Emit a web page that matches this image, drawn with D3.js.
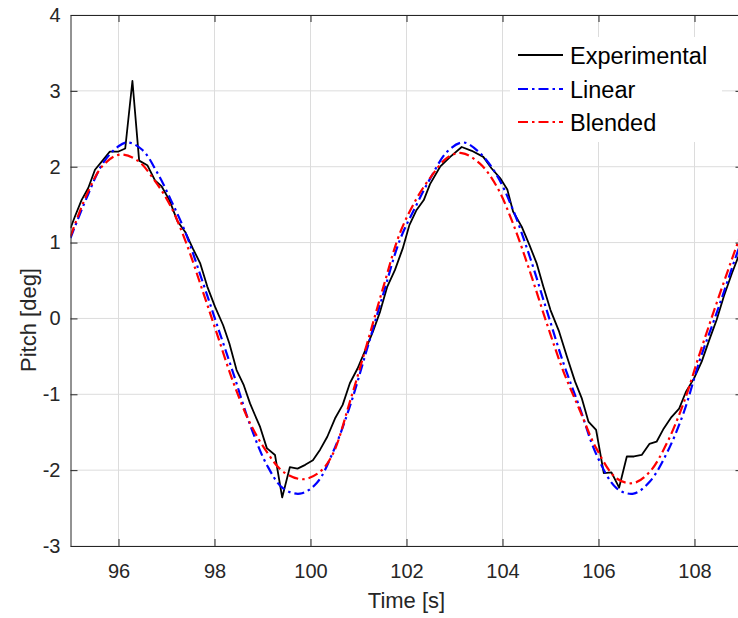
<!DOCTYPE html>
<html>
<head>
<meta charset="utf-8">
<script src="https://cdn.jsdelivr.net/npm/d3@7"></script>
<style>
  body { margin: 0; background: #fff; }
  svg { display: block; font-family: "Liberation Sans", Arial, sans-serif; }
</style>
</head>
<body>
<div id="vis"></div>
<script>
// experimental pitch
const expTime = [95.0, 95.09, 95.23, 95.37, 95.51, 95.68, 95.82, 96.0, 96.14, 96.29, 96.43, 96.6, 96.76, 96.9,
  97.06, 97.23, 97.39, 97.55, 97.7, 97.85, 98.01, 98.18, 98.31, 98.46, 98.61, 98.74, 98.84, 98.95, 99.09,
  99.26, 99.41, 99.57, 99.73, 99.89, 100.05, 100.2, 100.35, 100.51, 100.67, 100.82, 100.98, 101.14, 101.3,
  101.45, 101.6, 101.76, 101.92, 102.06, 102.21, 102.36, 102.49, 102.7, 102.91, 103.15, 103.36, 103.6,
  103.77, 103.95, 104.1, 104.22, 104.4, 104.56, 104.71, 104.85, 105.0, 105.18, 105.34, 105.51, 105.65,
  105.79, 105.95, 106.11, 106.27, 106.43, 106.59, 106.74, 106.9, 107.06, 107.21, 107.36, 107.52, 107.68,
  107.82, 107.99, 108.15, 108.31, 108.46, 108.61, 108.78, 108.91, 109.0]
const expPitch = [1.19, 1.34, 1.56, 1.72, 1.96, 2.09, 2.2, 2.2, 2.24, 3.13, 2.08, 2.02, 1.82, 1.74,
  1.56, 1.28, 1.14, 0.92, 0.73, 0.42, 0.155, -0.09, -0.33, -0.68, -0.88, -1.12, -1.27, -1.43, -1.71,
  -1.8, -2.36, -1.96, -1.98, -1.93, -1.87, -1.73, -1.56, -1.32, -1.14, -0.855, -0.66, -0.42, -0.175,
  0.09, 0.42, 0.64, 0.92, 1.23, 1.43, 1.56, 1.77, 2.0, 2.13, 2.26, 2.21, 2.13,
  1.98, 1.85, 1.7, 1.41, 1.21, 0.97, 0.73, 0.42, 0.11, -0.175, -0.5, -0.83, -1.05,
  -1.36, -1.47, -2.04, -2.03, -2.23, -1.82, -1.82, -1.8, -1.655, -1.625, -1.45, -1.3, -1.19,
  -0.97, -0.79, -0.57, -0.28, -0.02, 0.29, 0.595, 0.81, 0.98]

// linear model
const linTime = [95.0, 95.33, 95.68, 96.0, 96.2, 96.5, 96.8, 97.1, 97.39, 97.77, 98.05, 98.39, 98.74, 99.09,
  99.43, 99.78, 100.13, 100.47, 100.82, 101.17, 101.52, 101.86, 102.21, 102.49, 102.85, 103.18, 103.53,
  103.88, 104.22, 104.57, 104.92, 105.27, 105.61, 105.96, 106.38, 106.73, 107.07, 107.42, 107.77, 108.11,
  108.46, 108.91, 109.0]
const linPitch = [1.06, 1.58, 2.05, 2.27, 2.32, 2.22, 1.93, 1.55, 1.14, 0.45, -0.08, -0.72, -1.4, -1.93,
  -2.24, -2.31, -2.17, -1.76, -1.16, -0.42, 0.33, 1.03, 1.5, 1.84, 2.2, 2.32, 2.18,
  1.89, 1.43, 0.81, 0.11, -0.59, -1.18, -1.8, -2.24, -2.31, -2.15, -1.78, -1.25, -0.55,
  0.07, 0.9, 1.05]

// blended model
const blendTime = [95.0, 95.33, 95.68, 96.03, 96.4, 96.75, 97.07, 97.39, 97.77, 98.05, 98.39, 98.74, 99.09,
  99.43, 99.84, 100.2, 100.47, 100.82, 101.17, 101.52, 101.86, 102.21, 102.49, 102.85, 103.15, 103.53,
  103.88, 104.22, 104.57, 104.92, 105.27, 105.61, 105.96, 106.38, 106.73, 107.07, 107.42, 107.77, 108.11,
  108.46, 108.91, 109.0]
const blendPitch = [1.08, 1.62, 2.02, 2.16, 2.08, 1.82, 1.5, 1.03, 0.33, -0.2, -0.84, -1.38, -1.76,
  -2.02, -2.12, -2.02, -1.78, -1.1, -0.35, 0.42, 1.12, 1.58, 1.85, 2.12, 2.18, 2.04,
  1.74, 1.25, 0.62, -0.06, -0.7, -1.21, -1.72, -2.11, -2.17, -2.02, -1.65, -1.12, -0.46,
  0.2, 1.01, 1.15]

const xTicks = [96, 98, 100, 102, 104, 106, 108]
const yTicks = [-3, -2, -1, 0, 1, 2, 3, 4]
const legendNames = ["Experimental", "Linear", "Blended"]

const margin = {top: 15, left: 70.5}
const width = 672
const height = 531
const axisColor = "#262626"

const svg = d3.select("#vis").append("svg")
    .attr("width", 738)
    .attr("height", 618)

const x = d3.scaleLinear().domain([95, 109]).range([0, width])
const y = d3.scaleLinear().domain([-3, 4]).range([height, 0])

const g = svg.append("g")
    .attr("transform", "translate(" + margin.left + "," + margin.top + ")")

//grid
g.append("g").selectAll("line")
    .data(xTicks)
    .enter().append("line")
    .attr("x1", d => x(d)).attr("x2", d => x(d))
    .attr("y1", 0).attr("y2", height)
    .attr("stroke", "#dcdcdc").attr("stroke-width", 1)
g.append("g").selectAll("line")
    .data(yTicks)
    .enter().append("line")
    .attr("y1", d => y(d)).attr("y2", d => y(d))
    .attr("x1", 0).attr("x2", width)
    .attr("stroke", "#dcdcdc").attr("stroke-width", 1)

//clip the lines to the axes box
svg.append("defs").append("clipPath").attr("id", "clip")
    .append("rect").attr("width", width).attr("height", height)

const series = [
    {time: expTime, pitch: expPitch, color: "#000000", dash: null, w: 1.8, curve: d3.curveLinear},
    {time: linTime, pitch: linPitch, color: "#0000ff", dash: "10,4,2.5,4", w: 2.2, curve: d3.curveCatmullRom},
    {time: blendTime, pitch: blendPitch, color: "#ff0000", dash: "10,4,2.5,4", w: 2.2, curve: d3.curveCatmullRom}
]

const lines = g.append("g").attr("clip-path", "url(#clip)")
series.forEach(s => {
    const line = d3.line()
        .x((d, i) => x(s.time[i]))
        .y(d => y(d))
        .curve(s.curve)
    lines.append("path")
        .attr("d", line(s.pitch))
        .attr("fill", "none")
        .attr("stroke", s.color)
        .attr("stroke-width", s.w)
        .attr("stroke-dasharray", s.dash)
        .attr("stroke-linejoin", "round")
})

//axes, ticks point inward like matlab
const tickLen = 7
const plain = d => String(d)
const xAxisB = g.append("g").attr("transform", "translate(0," + height + ")")
    .call(d3.axisBottom(x).tickValues(xTicks).tickSizeInner(-tickLen).tickSizeOuter(0).tickPadding(18).tickFormat(plain))
const xAxisT = g.append("g")
    .call(d3.axisTop(x).tickValues(xTicks).tickSizeInner(-tickLen).tickSizeOuter(0).tickFormat(""))
const yAxisL = g.append("g")
    .call(d3.axisLeft(y).tickValues(yTicks).tickSizeInner(-tickLen).tickSizeOuter(0).tickPadding(10).tickFormat(plain))
const yAxisR = g.append("g").attr("transform", "translate(" + width + ",0)")
    .call(d3.axisRight(y).tickValues(yTicks).tickSizeInner(-tickLen).tickSizeOuter(0).tickFormat(""))

;[xAxisB, xAxisT, yAxisL, yAxisR].forEach(a => {
    a.select(".domain").attr("stroke", axisColor).attr("stroke-width", 1)
    a.selectAll(".tick line").attr("stroke", axisColor)
    a.selectAll("text")
        .attr("fill", axisColor)
        .style("font-size", "20px")
        .style("font-family", "'Liberation Sans', Arial, sans-serif")
})

//axis labels
svg.append("text")
    .attr("x", margin.left + x(102))
    .attr("y", 608)
    .attr("text-anchor", "middle")
    .attr("fill", axisColor)
    .style("font-size", "22px")
    .text("Time [s]")

svg.append("text")
    .attr("transform", "translate(36,320)rotate(-90)")
    .attr("text-anchor", "middle")
    .attr("fill", axisColor)
    .style("font-size", "22px")
    .text("Pitch [deg]")

//legend with white box covering the grid
const legend = svg.append("g")
legend.append("rect")
    .attr("x", 510).attr("y", 37)
    .attr("width", 212).attr("height", 105)
    .attr("fill", "#fff")

const rowY = [55, 89, 122]
series.forEach((s, i) => {
    legend.append("line")
        .attr("x1", 518).attr("x2", 563)
        .attr("y1", rowY[i]).attr("y2", rowY[i])
        .attr("stroke", s.color)
        .attr("stroke-width", s.w)
        .attr("stroke-dasharray", s.dash)
    legend.append("text")
        .attr("x", 570)
        .attr("y", rowY[i] + 8.5)
        .attr("fill", "#000")
        .style("font-size", "23.5px")
        .text(legendNames[i])
})
</script>
</body>
</html>
